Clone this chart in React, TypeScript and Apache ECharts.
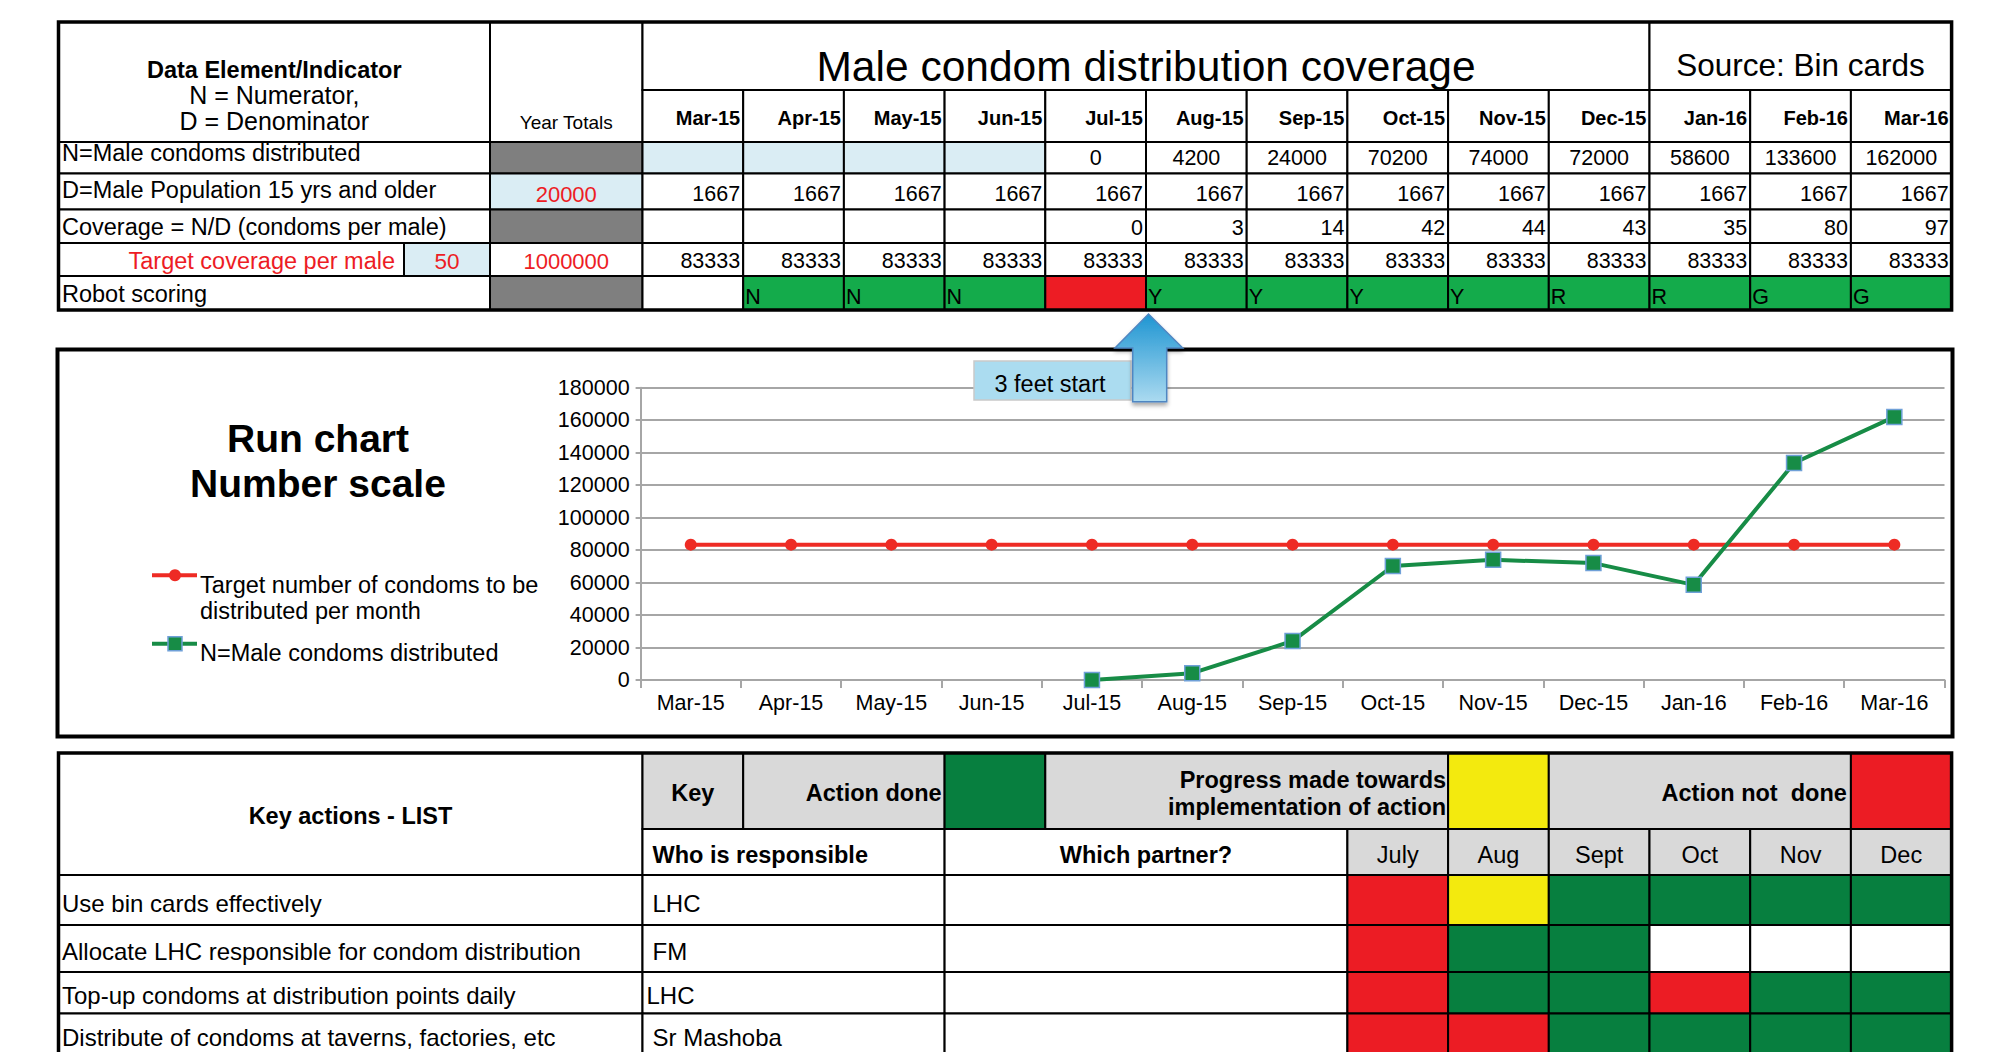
import React, { useEffect, useRef } from "react";
import * as echarts from "echarts";

// ---------------- DATA ----------------
const months = ["Mar-15", "Apr-15", "May-15", "Jun-15", "Jul-15", "Aug-15", "Sep-15", "Oct-15", "Nov-15", "Dec-15", "Jan-16", "Feb-16", "Mar-16"];
const maleCondomsDistributed: (number | null)[] = [null, null, null, null, 0, 4200, 24000, 70200, 74000, 72000, 58600, 133600, 162000];
const malePopulation15Plus = [1667, 1667, 1667, 1667, 1667, 1667, 1667, 1667, 1667, 1667, 1667, 1667, 1667];
const coveragePerMale: (number | null)[] = [null, null, null, null, 0, 3, 14, 42, 44, 43, 35, 80, 97];
const targetPerMonth = [83333, 83333, 83333, 83333, 83333, 83333, 83333, 83333, 83333, 83333, 83333, 83333, 83333];
const robotLetters = ["", "N", "N", "N", "", "Y", "Y", "Y", "Y", "R", "R", "G", "G"];
const robotColours = ["W", "G", "G", "G", "R", "G", "G", "G", "G", "G", "G", "G", "G"];
const populationYearTotal = 20000;
const targetYearTotal = 1000000;
const targetCoveragePerMale = 50;
const yMin = 0;
const yMax = 180000;
const yInterval = 20000;

const actionMonths = ["July", "Aug", "Sept", "Oct", "Nov", "Dec"];
const keyActions = [
  "Use bin cards effectively",
  "Allocate LHC responsible for condom distribution",
  "Top-up condoms at distribution points daily",
  "Distribute of condoms at taverns, factories, etc",
];
const responsible = ["LHC", "FM", "LHC", "Sr Mashoba"];
const actionStatus = [
  ["R", "Y", "G", "G", "G", "G"],
  ["R", "G", "G", "W", "W", "W"],
  ["R", "G", "G", "R", "G", "G"],
  ["R", "R", "G", "G", "G", "G"],
];

const seriesTargetName = "Target number of condoms to be\ndistributed per month";
const seriesActualName = "N=Male condoms distributed";

// ---------------- STYLE ----------------
const FONT = "'Liberation Sans', Arial, Helvetica, sans-serif";
const BLACK = "#000000";
const GRAY = "#7f7f7f";
const LIGHTBLUE = "#daedf4";
const HEADGRAY = "#d9d9d9";
const ROBOT = { G: "#14ab4b", R: "#ed1c24", W: "#ffffff" } as Record<string, string>;
const STATUS = { G: "#077f3f", R: "#ec1c24", Y: "#f3ea0e", W: "#ffffff" } as Record<string, string>;
const RED_LINE = "#ee2b24";
const GREEN_LINE = "#178c46";

export default function App() {
  const ref = useRef<HTMLDivElement>(null);

  useEffect(() => {
    document.body.style.margin = "0";
    document.body.style.overflow = "hidden";
    if (!ref.current) return;
    const chart = echarts.init(ref.current, undefined, { renderer: "svg" });

    const els: any[] = [];
    const rect = (x0: number, x1: number, y0: number, y1: number, fill: string, lw = 2, z = 10) => {
      els.push({ type: "rect", z, shape: { x: x0, y: y0, width: x1 - x0, height: y1 - y0 }, style: { fill, stroke: "#000", lineWidth: lw } });
    };
    const frame = (x0: number, x1: number, y0: number, y1: number, lw: number, z = 12) => {
      els.push({ type: "rect", z, shape: { x: x0, y: y0, width: x1 - x0, height: y1 - y0 }, style: { fill: "none", stroke: "#000", lineWidth: lw } });
    };
    const text = (x: number, y: number, s: string, o: any = {}) => {
      els.push({
        type: "text", z: o.z ?? 14, x, y,
        style: {
          text: s, fill: o.fill ?? BLACK, fontSize: o.size ?? 22, fontFamily: FONT,
          fontWeight: o.bold ? "bold" : "normal", align: o.align ?? "left",
          verticalAlign: o.va ?? "middle", lineHeight: o.lh,
        },
      });
    };

    // ---------- top table ----------
    const X0 = 58.5, XC1 = 490, XT = 404;
    const XM = (i: number) => 642.5 + i * 100.7;
    const Y = [22, 90, 142, 173.5, 209.5, 243, 276, 310];
    const LBL = 23.5;
    const NUM = 21.5;

    rect(X0, XC1, Y[0], Y[2], "#fff");
    rect(XC1, XM(0), Y[0], Y[2], "#fff");
    rect(XM(0), XM(10), Y[0], Y[1], "#fff");
    rect(XM(10), XM(13), Y[0], Y[1], "#fff");
    text((X0 + XC1) / 2, 69.5, "Data Element/Indicator", { bold: true, size: 23.5, align: "center", lh: 24 });
    text((X0 + XC1) / 2, 82.5, "N = Numerator,\nD = Denominator", { size: 25, align: "center", va: "top", lh: 25.5 });
    text((XC1 + XM(0)) / 2, 122, "Year Totals", { size: 19, align: "center" });
    text((XM(0) + XM(10)) / 2, 66.5, "Male condom distribution coverage", { size: 42.5, align: "center" });
    text((XM(10) + XM(13)) / 2, 65, "Source: Bin cards", { size: 31.5, align: "center" });

    months.forEach((m, i) => {
      rect(XM(i), XM(i + 1), Y[1], Y[2], "#fff");
      text(XM(i + 1) - 3, 118, m, { bold: true, size: 20, align: "right" });
    });

    // row labels
    rect(X0, XC1, Y[2], Y[3], "#fff");
    text(62, 153, "N=Male condoms distributed", { size: LBL });
    rect(X0, XC1, Y[3], Y[4], "#fff");
    text(62, 189.5, "D=Male Population 15 yrs and older", { size: LBL });
    rect(X0, XC1, Y[4], Y[5], "#fff");
    text(62, 226.5, "Coverage = N/D (condoms per male)", { size: LBL });
    rect(X0, XT, Y[5], Y[6], "#fff");
    text(395, 260.5, "Target coverage per male", { size: LBL, fill: "#ed1c24", align: "right" });
    rect(XT, XC1, Y[5], Y[6], LIGHTBLUE);
    text((XT + XC1) / 2, 261, String(targetCoveragePerMale), { size: 22.5, fill: "#ed1c24", align: "center" });
    rect(X0, XC1, Y[6], Y[7], "#fff");
    text(62, 294, "Robot scoring", { size: LBL });

    // year totals
    rect(XC1, XM(0), Y[2], Y[3], GRAY);
    rect(XC1, XM(0), Y[3], Y[4], LIGHTBLUE);
    text((XC1 + XM(0)) / 2, 194, String(populationYearTotal), { size: 22, fill: "#ed1c24", align: "center" });
    rect(XC1, XM(0), Y[4], Y[5], GRAY);
    rect(XC1, XM(0), Y[5], Y[6], "#fff");
    text((XC1 + XM(0)) / 2, 261, String(targetYearTotal), { size: 22, fill: "#ed1c24", align: "center" });
    rect(XC1, XM(0), Y[6], Y[7], GRAY);

    months.forEach((_, i) => {
      const a = XM(i), b = XM(i + 1);
      const n = maleCondomsDistributed[i];
      rect(a, b, Y[2], Y[3], n === null ? LIGHTBLUE : "#fff");
      if (n !== null) text((a + b) / 2, 158, String(n), { size: NUM, align: "center" });
      rect(a, b, Y[3], Y[4], "#fff");
      text(b - 3, 194, String(malePopulation15Plus[i]), { size: NUM, align: "right" });
      const c = coveragePerMale[i];
      rect(a, b, Y[4], Y[5], "#fff");
      if (c !== null) text(b - 3, 228, String(c), { size: NUM, align: "right" });
      rect(a, b, Y[5], Y[6], "#fff");
      text(b - 3, 261, String(targetPerMonth[i]), { size: NUM, align: "right" });
      rect(a, b, Y[6], Y[7], ROBOT[robotColours[i]]);
      if (robotLetters[i]) text(a + 2, 297, robotLetters[i], { size: 21.5 });
    });
    frame(X0, XM(13), Y[0], Y[7], 3.5);

    // ---------- chart panel ----------
    frame(57.5, 1952.5, 349.5, 736.5, 4, 5);
    text(318, 438, "Run chart", { bold: true, size: 39, align: "center" });
    text(318, 483, "Number scale", { bold: true, size: 39, align: "center" });
    // legend
    els.push({ type: "line", z: 14, shape: { x1: 152, y1: 575.3, x2: 197, y2: 575.3 }, style: { stroke: RED_LINE, lineWidth: 4 } });
    els.push({ type: "circle", z: 15, shape: { cx: 175, cy: 575.3, r: 6 }, style: { fill: RED_LINE } });
    text(200, 572.2, seriesTargetName, { size: 23.5, va: "top", lh: 25.7 });
    els.push({ type: "line", z: 14, shape: { x1: 152, y1: 643.7, x2: 197, y2: 643.7 }, style: { stroke: GREEN_LINE, lineWidth: 4 } });
    els.push({ type: "rect", z: 15, shape: { x: 168, y: 636.7, width: 14, height: 14 }, style: { fill: GREEN_LINE, stroke: "#6fa0d8", lineWidth: 1.5 } });
    text(200, 653.3, seriesActualName, { size: 23.5 });

    // callout + arrow
    els.push({ type: "rect", z: 100, shape: { x: 974, y: 361, width: 157, height: 39 }, style: { fill: "#abdcf0", stroke: "#c9c9c9", lineWidth: 1.5 } });
    text(1050, 384, "3 feet start", { size: 23.5, align: "center", z: 101 });
    els.push({
      type: "polygon", z: 102,
      shape: { points: [[1132.7, 401.7], [1132.7, 348], [1115, 348], [1148.5, 314], [1182.7, 348], [1166.7, 348], [1166.7, 401.7]] },
      style: {
        fill: { type: "linear", x: 0, y: 0, x2: 0, y2: 1, colorStops: [{ offset: 0, color: "#1e95d2" }, { offset: 1, color: "#abdaf0" }] },
        stroke: "#4f86c2", lineWidth: 1.5, shadowBlur: 4, shadowColor: "rgba(0,0,0,0.35)", shadowOffsetY: 3,
      },
    });

    // ---------- bottom table ----------
    const B = [753, 829, 875, 925, 972, 1013.5, 1062];
    const BT = 23.5;
    rect(X0, XM(0), B[0], B[2], "#fff");
    text((X0 + XM(0)) / 2, 815.5, "Key actions - LIST", { bold: true, size: BT, align: "center" });
    rect(XM(0), XM(1), B[0], B[1], HEADGRAY);
    text((XM(0) + XM(1)) / 2, 792.6, "Key", { bold: true, size: BT, align: "center" });
    rect(XM(1), XM(3), B[0], B[1], HEADGRAY);
    text(XM(3) - 3, 792.6, "Action done", { bold: true, size: BT, align: "right" });
    rect(XM(3), XM(4), B[0], B[1], STATUS.G);
    rect(XM(4), XM(8), B[0], B[1], HEADGRAY);
    text(XM(8) - 2, 780 - 13.25, "Progress made towards\nimplementation of action", { bold: true, size: BT, align: "right", va: "top", lh: 26.5 });
    rect(XM(8), XM(9), B[0], B[1], STATUS.Y);
    rect(XM(9), XM(12), B[0], B[1], HEADGRAY);
    text(XM(12) - 4, 792.6, "Action not  done", { bold: true, size: BT, align: "right" });
    rect(XM(12), XM(13), B[0], B[1], STATUS.R);

    rect(XM(0), XM(3), B[1], B[2], "#fff");
    text(XM(0) + 10, 855, "Who is responsible", { bold: true, size: BT });
    rect(XM(3), XM(7), B[1], B[2], "#fff");
    text((XM(3) + XM(7)) / 2, 855, "Which partner?", { bold: true, size: BT, align: "center" });
    actionMonths.forEach((m, j) => {
      rect(XM(7 + j), XM(8 + j), B[1], B[2], HEADGRAY);
      text((XM(7 + j) + XM(8 + j)) / 2, 855, m, { size: BT, align: "center" });
    });

    const rowTextY = [903, 951.5, 995, 1037];
    keyActions.forEach((a, r) => {
      rect(X0, XM(0), B[r + 2], B[r + 3], "#fff");
      text(62, rowTextY[r], a, { size: 24 });
      rect(XM(0), XM(3), B[r + 2], B[r + 3], "#fff");
      text(XM(0) + (r === 2 ? 4 : 10), rowTextY[r], responsible[r], { size: 24 });
      rect(XM(3), XM(7), B[r + 2], B[r + 3], "#fff");
      actionStatus[r].forEach((s, j) => {
        rect(XM(7 + j), XM(8 + j), B[r + 2], B[r + 3], STATUS[s]);
      });
    });
    frame(X0, XM(13), B[0], B[6], 3.5);

    const axisGray = "#a6a6a6";
    chart.setOption({
      animation: false,
      textStyle: { fontFamily: FONT },
      grid: { left: 640.6, right: 50.5, top: 387.7, bottom: 372, containLabel: false },
      xAxis: {
        type: "category",
        data: months,
        boundaryGap: true,
        axisLine: { lineStyle: { color: axisGray, width: 2 } },
        axisTick: { show: true, length: 8, lineStyle: { color: axisGray, width: 2 } },
        axisLabel: { fontSize: 21.5, color: BLACK, margin: 12, interval: 0, fontFamily: FONT },
        splitLine: { show: false },
      },
      yAxis: {
        type: "value",
        min: yMin,
        max: yMax,
        interval: yInterval,
        axisLine: { show: true, lineStyle: { color: axisGray, width: 2 } },
        axisTick: { show: true, length: 5, lineStyle: { color: axisGray, width: 2 } },
        axisLabel: { fontSize: 21.5, color: BLACK, margin: 11, fontFamily: FONT, formatter: (v: number) => String(v) },
        splitLine: { show: true, lineStyle: { color: axisGray, width: 2 } },
      },
      series: [
        {
          name: seriesTargetName,
          type: "line",
          data: targetPerMonth,
          symbol: "circle",
          symbolSize: 12,
          lineStyle: { color: RED_LINE, width: 4 },
          itemStyle: { color: RED_LINE },
          z: 3,
        },
        {
          name: seriesActualName,
          type: "line",
          data: maleCondomsDistributed,
          symbol: "rect",
          symbolSize: 15,
          connectNulls: false,
          lineStyle: { color: GREEN_LINE, width: 4 },
          itemStyle: { color: GREEN_LINE, borderColor: "#6fa0d8", borderWidth: 1.5 },
          z: 4,
        },
      ],
      graphic: { elements: els },
    });

    return () => chart.dispose();
  }, []);

  return <div ref={ref} style={{ width: 1995, height: 1052 }} />;
}
